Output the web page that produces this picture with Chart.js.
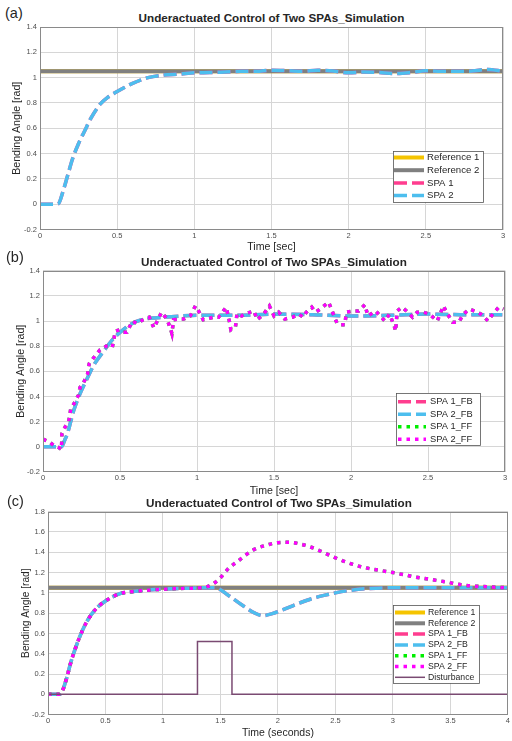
<!DOCTYPE html>
<html><head><meta charset="utf-8">
<script src="https://cdn.jsdelivr.net/npm/chart.js@4.4.1/dist/chart.umd.min.js"></script>
<style>
body{margin:0;background:#fff;width:512px;height:741px;position:relative;overflow:hidden;font-family:"Liberation Sans",Arial,sans-serif;color:#262626}
canvas{position:absolute;left:0}
.lbl{position:absolute;font-size:14.5px;line-height:16px}
.ttl{position:absolute;font-weight:bold;font-size:11.7px;line-height:14px;text-align:center;white-space:nowrap}
</style></head><body>
<div class="lbl" style="left:5px;top:5px">(a)</div>
<div class="ttl" style="left:40px;width:463px;top:11px">Underactuated Control of Two SPAs_Simulation</div>
<canvas id="ca" width="512" height="253" style="top:0px"></canvas>
<div class="lbl" style="left:6px;top:249px">(b)</div>
<div class="ttl" style="left:43px;width:462px;top:255px">Underactuated Control of Two SPAs_Simulation</div>
<canvas id="cb" width="512" height="244" style="top:253px"></canvas>
<div class="lbl" style="left:7px;top:493px">(c)</div>
<div class="ttl" style="left:48px;width:462px;top:496px">Underactuated Control of Two SPAs_Simulation</div>
<canvas id="cc" width="512" height="244" style="top:497px"></canvas>
<script>
// ===== Panel (a) data =====
const tA   = [0,0.1,0.12,0.15,0.18,0.21,0.25,0.29,0.33,0.39,0.44,0.5,0.6,0.7,0.8,0.9,1.0,1.1,1.2,1.3,1.4,1.5,1.6,1.7,1.8,1.9,2.0,2.1,2.2,2.3,2.4,2.5,2.6,2.7,2.8,2.9,3.0];
const spaA = [0,0,0.005,0.105,0.23,0.355,0.48,0.58,0.68,0.79,0.845,0.89,0.955,1.0,1.02,1.027,1.038,1.04,1.045,1.05,1.05,1.058,1.055,1.05,1.058,1.052,1.038,1.045,1.04,1.032,1.04,1.055,1.05,1.05,1.052,1.065,1.05];
const refTA = [0,3];
const refA  = [1.05,1.05];

// ===== Panel (b) data =====
const tBfb = [0,0.12,0.14,0.16,0.18,0.2,0.24,0.29,0.33,0.4,0.45,0.5,0.57,0.64,0.74,0.9,1.0,1.25,1.5,1.75,2.0,2.25,2.5,2.75,3.0];
const fbB  = [0,0,0.05,0.11,0.2,0.29,0.42,0.55,0.65,0.77,0.85,0.91,0.975,1.01,1.026,1.04,1.045,1.045,1.055,1.05,1.04,1.045,1.055,1.05,1.05];
const tBff = [0,0.04,0.07,0.10,0.12,0.123,0.145,0.167,0.18,0.20,0.23,0.24,0.26,0.29,0.30,0.33,0.37,0.39,0.41,0.45,0.47,0.50,0.52,0.545,0.58,0.61,0.65,0.69,0.72,0.75,0.77,0.805,0.826,0.837,0.848,0.88,0.913,0.956,0.99,1.01,1.04,1.075,1.11,1.14,1.19,1.21,1.22,1.25,1.26,1.29,1.32,1.37,1.39,1.43,1.47,1.50,1.53,1.57,1.62,1.66,1.69,1.71,1.745,1.77,1.80,1.855,1.89,1.91,1.93,1.96,1.97,2.02,2.05,2.09,2.11,2.16,2.19,2.22,2.25,2.28,2.29,2.30,2.33,2.36,2.40,2.43,2.47,2.51,2.56,2.60,2.62,2.66,2.70,2.73,2.77,2.82,2.85,2.89,2.92,2.96,2.99];
const ffB  = [0.06,0.04,0.01,-0.005,-0.02,0.105,0.16,0.2,0.30,0.34,0.41,0.47,0.50,0.58,0.66,0.71,0.77,0.78,0.80,0.79,0.92,0.93,0.91,0.91,1.0,0.98,1.01,1.03,0.945,1.02,1.07,1.015,0.945,0.90,1.01,1.015,1.015,1.04,1.12,1.08,1.01,1.02,1.03,1.03,1.11,1.0,0.93,0.955,1.06,1.04,1.06,1.08,1.01,1.05,1.12,1.04,1.07,1.015,1.03,1.055,1.03,1.07,1.11,1.07,1.095,1.15,1.04,0.98,0.97,0.97,1.07,1.08,1.08,1.13,1.04,1.08,1.04,1.0,1.055,0.965,0.92,1.08,1.11,1.08,1.03,1.07,1.07,1.055,1.0,1.12,1.07,0.99,0.99,1.055,1.095,1.07,1.05,1.0,1.055,1.11,1.095];

// ===== Panel (c) data =====
const tCfb = [0,0.1,0.12,0.16,0.2,0.25,0.3,0.35,0.42,0.5,0.62,0.74,0.9,1.0,1.2,1.4,1.45,1.5,1.55,1.6,1.7,1.8,1.87,1.95,2.0,2.1,2.2,2.3,2.4,2.5,2.6,2.75,3.0,3.5,4.0];
const fbC  = [0,0,0.02,0.15,0.32,0.49,0.63,0.74,0.845,0.92,0.99,1.013,1.03,1.036,1.045,1.05,1.05,1.03,0.99,0.95,0.87,0.8,0.775,0.795,0.815,0.86,0.905,0.945,0.975,1.0,1.02,1.04,1.05,1.05,1.05];
const tCff = [0,0.1,0.12,0.16,0.2,0.25,0.3,0.35,0.42,0.5,0.62,0.74,0.9,1.0,1.2,1.34,1.43,1.5,1.57,1.66,1.78,1.9,2.0,2.1,2.2,2.32,2.47,2.6,2.75,3.0,3.2,3.45,3.62,3.83,4.0];
const ffC  = [0,0,0.02,0.15,0.32,0.49,0.63,0.74,0.845,0.92,0.99,1.013,1.03,1.036,1.045,1.05,1.085,1.15,1.24,1.32,1.42,1.47,1.495,1.498,1.48,1.436,1.36,1.3,1.25,1.2,1.155,1.11,1.075,1.06,1.05];
const refTC = [0,4];
const refC  = [1.05,1.05];
const tDist = [0,1.3,1.3,1.6,1.6,4];
const dist  = [0,0,0.52,0.52,0,0];

// ===== styling =====
const FONT = '"Liberation Sans", Arial, sans-serif';
const GRID = '#d6d6d6';
const C_YEL = '#f5c400', C_GRAY = '#808080', C_PINK = '#ff3d8f', C_BLUE = '#4dbeee', C_GRN = '#00ee00', C_MAG = '#ff00ff', C_DIST = '#7a4a72';
const DASH = [13,5], DOT = [3.5,5];

const pts = (t, v) => t.map((x, i) => ({x, y: v[i]}));
const fmt = v => String(Math.round(v * 100) / 100);

const boxLegend = {
  id: 'boxLegend',
  afterDatasetsDraw(chart, args, o) {
    const {ctx, chartArea: a} = chart;
    ctx.save();
    ctx.setLineDash([]);
    ctx.strokeStyle = '#8a8a8a'; ctx.lineWidth = 1;
    ctx.strokeRect(Math.round(a.left) + 0.5, Math.round(a.top) + 0.5, Math.round(a.right - a.left) - 1, Math.round(a.bottom - a.top) - 1);
    ctx.fillStyle = '#fff';
    ctx.fillRect(o.x, o.y, o.w, o.h);
    ctx.strokeStyle = '#555'; ctx.lineWidth = 0.8;
    ctx.strokeRect(o.x + 0.5, o.y + 0.5, o.w, o.h);
    chart.data.datasets.forEach((d, i) => {
      const y = o.row0 + i * o.step;
      ctx.beginPath();
      ctx.setLineDash(d.borderDash || []);
      ctx.lineDashOffset = 0;
      ctx.lineWidth = d.borderWidth; ctx.strokeStyle = d.borderColor; ctx.lineCap = 'butt';
      ctx.moveTo(o.x0, y); ctx.lineTo(o.x1, y); ctx.stroke();
      ctx.setLineDash([]);
      ctx.fillStyle = '#262626'; ctx.font = o.size + 'px ' + FONT; ctx.textBaseline = 'middle'; ctx.textAlign = 'left';
      ctx.fillText(d.label, o.tx, y);
    });
    ctx.restore();
  }
};

function panel(id, cfg) {
  const n = cfg.datasets.length;
  return new Chart(document.getElementById(id), {
    type: 'line',
    data: { datasets: cfg.datasets.map((d, i) => Object.assign({
      pointRadius: 0, fill: false, borderCapStyle: 'butt', order: n - i, tension: 0
    }, d)) },
    options: {
      responsive: false, animation: false, devicePixelRatio: 1,
      layout: { padding: cfg.pad },
      plugins: { legend: {display: false}, tooltip: {enabled: false}, boxLegend: cfg.legend },
      scales: {
        x: {
          type: 'linear', min: 0, max: cfg.xmax,
          ticks: { stepSize: 0.5, font: {size: 7.5, family: FONT}, color: '#4d4d4d', padding: 2, maxRotation: 0, autoSkip: false, callback: fmt },
          grid: { color: GRID, drawTicks: false }, border: { display: false },
          title: { display: true, text: cfg.xtitle, font: {size: cfg.xfs, family: FONT}, color: '#262626', padding: {top: 0, bottom: cfg.xtp} },
          afterFit: s => { s.height = cfg.xh; }
        },
        y: {
          min: -0.2, max: cfg.ymax,
          ticks: { stepSize: 0.2, font: {size: 7.5, family: FONT}, color: '#4d4d4d', padding: 3, callback: fmt },
          grid: { color: GRID, drawTicks: false }, border: { display: false },
          title: { display: true, text: 'Bending Angle [rad]', font: {size: cfg.yfs, family: FONT}, color: '#262626', padding: {top: cfg.ytp, bottom: 0} },
          afterFit: s => { s.width = cfg.yw; }
        }
      }
    },
    plugins: [boxLegend]
  });
}

const smooth = { cubicInterpolationMode: 'monotone' };

panel('ca', {
  xmax: 3, ymax: 1.4, xtitle: 'Time [sec]', xfs: 10.6, xtp: 0, xh: 23.5, yw: 40, ytp: 11, yfs: 10.6,
  pad: {left: 0, right: 9, top: 27, bottom: 0},
  legend: {x: 393, y: 151, w: 90, h: 51, row0: 157.5, step: 12.7, x0: 394, x1: 424, tx: 427, size: 9.6},
  datasets: [
    {label: 'Reference 1', data: pts(refTA, refA), borderColor: C_YEL, borderWidth: 4},
    {label: 'Reference 2', data: pts(refTA, refA), borderColor: C_GRAY, borderWidth: 4},
    Object.assign({label: 'SPA 1', data: pts(tA, spaA), borderColor: C_PINK, borderWidth: 3.5, borderDash: DASH}, smooth),
    Object.assign({label: 'SPA 2', data: pts(tA, spaA), borderColor: C_BLUE, borderWidth: 3.5, borderDash: DASH}, smooth)
  ]
});

panel('cb', {
  xmax: 3, ymax: 1.4, xtitle: 'Time [sec]', xfs: 10.6, xtp: 0, xh: 25.1, yw: 43, ytp: 14.5, yfs: 10.6,
  pad: {left: 0, right: 7, top: 17.7, bottom: 0},
  legend: {x: 396, y: 140, w: 84, h: 52, row0: 148.7, step: 12.5, x0: 398, x1: 426, tx: 430, size: 9.3},
  datasets: [
    Object.assign({label: 'SPA 1_FB', data: pts(tBfb, fbB), borderColor: C_PINK, borderWidth: 3.5, borderDash: DASH}, smooth),
    Object.assign({label: 'SPA 2_FB', data: pts(tBfb, fbB), borderColor: C_BLUE, borderWidth: 3.5, borderDash: DASH}, smooth),
    {label: 'SPA 1_FF', data: pts(tBff, ffB), borderColor: C_GRN, borderWidth: 3.5, borderDash: DOT},
    {label: 'SPA 2_FF', data: pts(tBff, ffB), borderColor: C_MAG, borderWidth: 3.5, borderDash: DOT}
  ]
});

panel('cc', {
  xmax: 4, ymax: 1.8, xtitle: 'Time (seconds)', xfs: 10.5, xtp: 1.5, xh: 26.4, yw: 48, ytp: 20, yfs: 10.2,
  pad: {left: 0, right: 2, top: 14.7, bottom: 0},
  legend: {x: 393, y: 108, w: 86, h: 78, row0: 115.5, step: 10.8, x0: 395, x1: 425, tx: 428, size: 8.7},
  datasets: [
    {label: 'Reference 1', data: pts(refTC, refC), borderColor: C_YEL, borderWidth: 4},
    {label: 'Reference 2', data: pts(refTC, refC), borderColor: C_GRAY, borderWidth: 4},
    Object.assign({label: 'SPA 1_FB', data: pts(tCfb, fbC), borderColor: C_PINK, borderWidth: 3.5, borderDash: DASH}, smooth),
    Object.assign({label: 'SPA 2_FB', data: pts(tCfb, fbC), borderColor: C_BLUE, borderWidth: 3.5, borderDash: DASH}, smooth),
    Object.assign({label: 'SPA 1_FF', data: pts(tCff, ffC), borderColor: C_GRN, borderWidth: 3.5, borderDash: DOT}, smooth),
    Object.assign({label: 'SPA 2_FF', data: pts(tCff, ffC), borderColor: C_MAG, borderWidth: 3.5, borderDash: DOT}, smooth),
    {label: 'Disturbance', data: pts(tDist, dist), borderColor: C_DIST, borderWidth: 1.5}
  ]
});
</script>
</body></html>
